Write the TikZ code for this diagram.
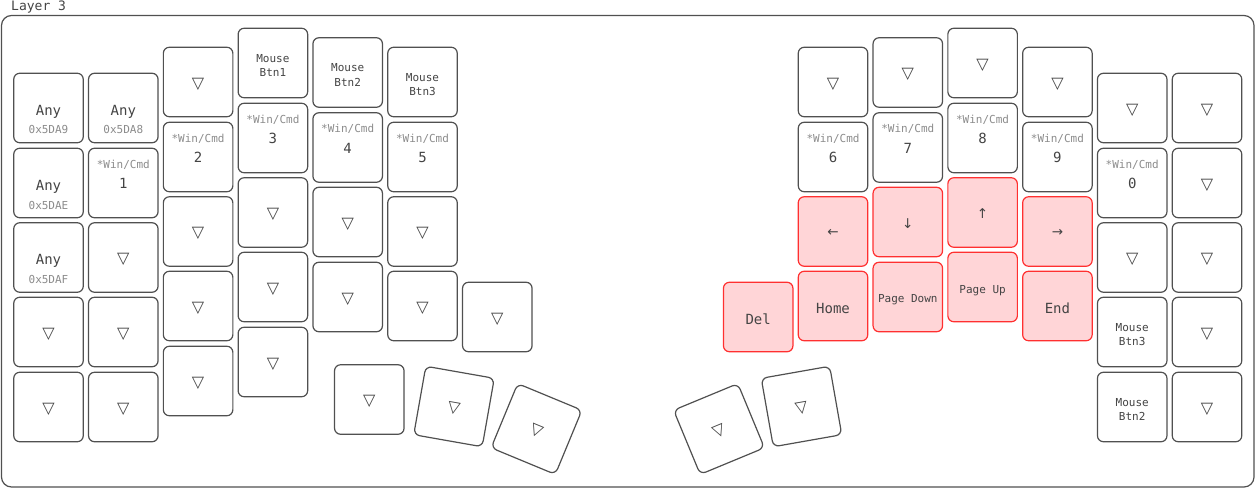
\documentclass[tikz,border=0pt]{standalone}
\usepackage{fontspec}
\newfontfamily\kfont{DejaVu Sans Mono}
\newfontfamily\ksym{DejaVu Sans}
\definecolor{keyline}{HTML}{505050}
\definecolor{txt}{HTML}{444444}
\definecolor{subtxt}{HTML}{8C8C8C}
\definecolor{hlfill}{HTML}{FFD5D7}
\definecolor{hlline}{HTML}{FF3030}
\tikzset{
  keybox/.style={draw=keyline, fill=white, line width=1.2pt, rounded corners=6pt,
    minimum width=69.5pt, minimum height=69.5pt, inner sep=0pt},
  hl/.style={draw=hlline, fill=hlfill},
  tap/.style={font=\kfont\fontsize{14}{16}\selectfont, text=txt, inner sep=0pt,
    text height=10.2pt, text depth=0pt},
  small/.style={font=\kfont\fontsize{11}{13}\selectfont, text=txt, inner sep=0pt,
    text height=8pt, text depth=0pt},
  sub/.style={small, text=subtxt},
  tri/.style={font=\ksym\fontsize{16}{18}\selectfont, text=txt, inner sep=0pt},
  arr/.style={font=\ksym\fontsize{13.5}{15}\selectfont, text=txt, inner sep=0pt},
  frame/.style={draw=keyline, line width=1.2pt, rounded corners=10pt},
  title/.style={font=\kfont\fontsize{13}{15}\selectfont, text=txt, inner sep=0pt, anchor=base west}
}
% triangle key: [rotation] name x y
\newcommand\Ktri[4][0]{%
  \node[keybox,rotate=#1] (#2) at (#3,#4) {};
  \node[tri,rotate=#1] (#2t) at ([yshift=-2pt]#2.center) {▽};}
% plain tap key: [style] name x y text
\newcommand\Ktap[5][]{%
  \node[keybox,#1] (#2) at (#3,#4) {};
  \node[tap] (#2t) at ([yshift=-2pt]#2.center) {#5};}
% tap + hold: name x y tap hold
\newcommand\Khold[5]{%
  \node[keybox] (#1) at (#2,#3) {};
  \node[tap] (#1t) at ([yshift=-2pt]#1.center) {#4};
  \node[sub] (#1h) at ([yshift=-22pt]#1.center) {#5};}
% shifted *Win/Cmd + tap: name x y tap
\newcommand\Kshift[4]{%
  \node[keybox] (#1) at (#2,#3) {};
  \node[sub] (#1s) at ([yshift=18.5pt]#1.center) {*Win/Cmd};
  \node[tap] (#1t) at ([yshift=-0.5pt]#1.center) {#4};}
% two line: [style] name x y l1 l2
\newcommand\Ktwo[6][]{%
  \node[keybox,#1] (#2) at (#3,#4) {};
  \node[small] (#2a) at ([yshift=4.7pt]#2.center) {#5};
  \node[small] (#2b) at ([yshift=-9.8pt]#2.center) {#6};}
% arrow key: name x y glyph
\newcommand\Karr[4]{%
  \node[keybox,hl] (#1) at (#2,#3) {};
  \node[arr] (#1t) at ([yshift=-1.5pt]#1.center) {#4};}

\begin{document}
\begin{tikzpicture}[x=1pt,y=-1pt]
\useasboundingbox (0,0) rectangle (1255,489);
\draw[frame] (1.5,15.5) rectangle (1254,487);
\node[title] (layer) at (11,10.5) {Layer 3};

% ---------- left half ----------
% col 0
\Khold{a0}{48.5}{108}{Any}{0x5DA9}
\Khold{a1}{48.5}{183}{Any}{0x5DAE}
\Khold{a2}{48.5}{257.5}{Any}{0x5DAF}
\Ktri{a3}{48.5}{332}
\Ktri{a4}{48.5}{407}
% col 1
\Khold{b0}{123.3}{108}{Any}{0x5DA8}
\Kshift{b1}{123.3}{183}{1}
\Ktri{b2}{123.3}{257.5}
\Ktri{b3}{123.3}{332}
\Ktri{b4}{123.3}{407}
% col 2
\Ktri{c0}{198.1}{82}
\Kshift{c1}{198.1}{157}{2}
\Ktri{c2}{198.1}{231.5}
\Ktri{c3}{198.1}{306}
\Ktri{c4}{198.1}{381}
% col 3
\Ktwo{d0}{272.9}{63}{Mouse}{Btn1}
\Kshift{d1}{272.9}{138}{3}
\Ktri{d2}{272.9}{212.5}
\Ktri{d3}{272.9}{287}
\Ktri{d4}{272.9}{362}
% col 4
\Ktwo{e0}{347.7}{72.5}{Mouse}{Btn2}
\Kshift{e1}{347.7}{147.5}{4}
\Ktri{e2}{347.7}{222}
\Ktri{e3}{347.7}{297}
% col 5
\Ktwo{f0}{422.5}{82}{Mouse}{Btn3}
\Kshift{f1}{422.5}{157}{5}
\Ktri{f2}{422.5}{231.5}
\Ktri{f3}{422.5}{306}
% col 6
\Ktri{g0}{497.3}{317}
% thumbs
\Ktri{t0}{369.3}{399.5}
\Ktri[-10]{t1}{454}{406.5}
\Ktri[-22.5]{t2}{536.5}{429}

% ---------- right half ----------
% Del
\Ktap[hl]{rg0}{758.2}{317}{Del}
% col 5 mirror
\Ktri{rf0}{833}{82}
\Kshift{rf1}{833}{157}{6}
\Karr{rf2}{833}{231.5}{←}
\Ktap[hl]{rf3}{833}{306}{Home}
% col 4 mirror
\Ktri{re0}{907.8}{72.5}
\Kshift{re1}{907.8}{147.5}{7}
\Karr{re2}{907.8}{222}{↓}
\node[keybox,hl] (re3) at (907.8,297) {};
\node[small] (re3t) at ([yshift=-1.3pt]re3.center) {Page Down};
% col 3 mirror
\Ktri{rd0}{982.6}{63}
\Kshift{rd1}{982.6}{138}{8}
\Karr{rd2}{982.6}{212.5}{↑}
\node[keybox,hl] (rd3) at (982.6,287) {};
\node[small] (rd3t) at ([yshift=-2.3pt]rd3.center) {Page Up};
% col 2 mirror
\Ktri{rc0}{1057.4}{82}
\Kshift{rc1}{1057.4}{157}{9}
\Karr{rc2}{1057.4}{231.5}{→}
\Ktap[hl]{rc3}{1057.4}{306}{End}
% col 1 mirror
\Ktri{rb0}{1132.2}{108}
\Kshift{rb1}{1132.2}{183}{0}
\Ktri{rb2}{1132.2}{257.5}
\Ktwo{rb3}{1132.2}{332}{Mouse}{Btn3}
\Ktwo{rb4}{1132.2}{407}{Mouse}{Btn2}
% col 0 mirror
\Ktri{ra0}{1207}{108}
\Ktri{ra1}{1207}{183}
\Ktri{ra2}{1207}{257.5}
\Ktri{ra3}{1207}{332}
\Ktri{ra4}{1207}{407}
% thumbs
\Ktri[22.5]{rt2}{719}{429}
\Ktri[10]{rt1}{801.5}{406.5}
\end{tikzpicture}
\end{document}
